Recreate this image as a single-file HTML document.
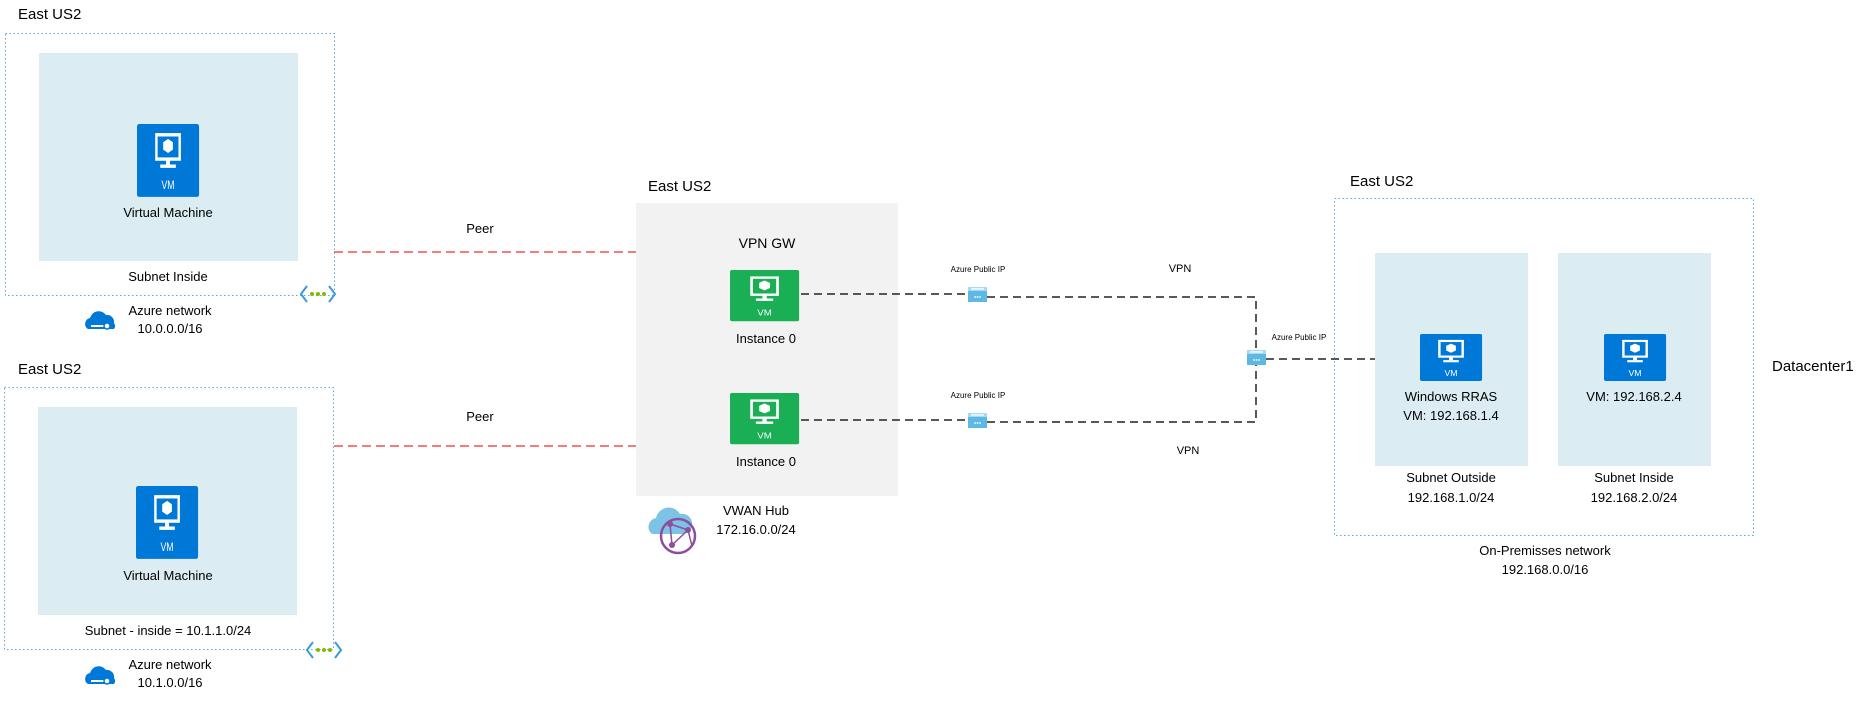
<!DOCTYPE html>
<html><head><meta charset="utf-8"><style>
html,body{margin:0;padding:0;background:#fff;}
svg{display:block;font-family:"Liberation Sans",sans-serif;}
</style></head><body>
<svg width="1873" height="714" viewBox="0 0 1873 714" xmlns="http://www.w3.org/2000/svg">
<defs>
<g id="vm">
  <rect x="0" y="0" width="64" height="54" rx="2"/>
  <rect x="20" y="8" width="24" height="18" fill="none" stroke="#fff" stroke-width="2.5"/>
  <rect x="30" y="26" width="4" height="4" fill="#fff"/>
  <rect x="24" y="30" width="16" height="2.5" fill="#fff"/>
  <path d="M32 11 l5 2.5 v5.5 l-5 2.5 l-5 -2.5 v-5.5z" fill="#fff"/>
  <text x="32" y="48" font-size="9" fill="#fff" text-anchor="middle">VM</text>
</g>
<g id="pip">
  <rect x="0" y="0" width="19" height="15" fill="#5db8e4"/>
  <rect x="0" y="0" width="19" height="4" fill="#a9d9f0"/>
  <rect x="3" y="1.3" width="13" height="1.3" fill="#fff"/>
  <circle cx="7" cy="10" r="0.9" fill="#fff"/><circle cx="9.5" cy="10" r="0.9" fill="#fff"/><circle cx="12" cy="10" r="0.9" fill="#fff"/>
</g>
<g id="net">
  <path d="M6 0 L0 8 L6 16" fill="none" stroke="#3b9bd9" stroke-width="2"/>
  <path d="M28 0 L34 8 L28 16" fill="none" stroke="#3b9bd9" stroke-width="2"/>
  <circle cx="11" cy="8" r="2" fill="#7fba00"/><circle cx="17" cy="8" r="2" fill="#7fba00"/><circle cx="23" cy="8" r="2" fill="#7fba00"/>
</g>
<g id="cloud">
  <path d="M6 20 a6 6 0 0 1 2 -11 a9 9 0 0 1 16 -3 a7 7 0 0 1 8 8 a5 5 0 0 1 0 6 z" fill="#0078d7"/>
  <path d="M9 17 h14" stroke="#fff" stroke-width="2"/>
  <circle cx="25" cy="17" r="3" fill="#fff" stroke="#0078d7" stroke-width="1.5"/>
</g>
</defs>

<g font-size="13" fill="#000">
<!-- left top -->
<text x="18" y="19" font-size="15">East US2</text>
<rect x="5.5" y="33.5" width="329" height="262" fill="none" stroke="#5ea6d6" stroke-dasharray="1.5 2.5"/>
<rect x="39" y="53" width="259" height="208" fill="#dbedf3"/>
<use href="#vm" fill="#0078d7" transform="translate(137 124) scale(0.97 1.35)"/>
<text x="168" y="217" text-anchor="middle">Virtual Machine</text>
<text x="168" y="281" text-anchor="middle">Subnet Inside</text>
<use href="#net" x="301" y="286"/>
<use href="#cloud" x="82" y="309"/>
<text x="170" y="315" text-anchor="middle">Azure network</text>
<text x="170" y="333" text-anchor="middle">10.0.0.0/16</text>

<!-- left bottom -->
<text x="18" y="374" font-size="15">East US2</text>
<rect x="4.5" y="387.5" width="329" height="262" fill="none" stroke="#5ea6d6" stroke-dasharray="1.5 2.5"/>
<rect x="38" y="407" width="259" height="208" fill="#dbedf3"/>
<use href="#vm" fill="#0078d7" transform="translate(136 486) scale(0.97 1.35)"/>
<text x="168" y="580" text-anchor="middle">Virtual Machine</text>
<text x="168" y="635" text-anchor="middle">Subnet - inside = 10.1.1.0/24</text>
<use href="#net" x="307" y="642"/>
<use href="#cloud" x="82" y="664"/>
<text x="170" y="669" text-anchor="middle">Azure network</text>
<text x="170" y="687" text-anchor="middle">10.1.0.0/16</text>

<!-- peers -->
<text x="480" y="233" text-anchor="middle">Peer</text>
<line x1="334" y1="252" x2="636" y2="252" stroke="#f05050" stroke-width="1.5" stroke-dasharray="9 5"/>
<text x="480" y="421" text-anchor="middle">Peer</text>
<line x1="334" y1="446" x2="636" y2="446" stroke="#f05050" stroke-width="1.5" stroke-dasharray="9 5"/>

<!-- hub -->
<text x="648" y="191" font-size="15">East US2</text>
<rect x="636" y="203" width="262" height="293" fill="#f2f2f2"/>
<text x="767" y="248" text-anchor="middle" font-size="14">VPN GW</text>
<use href="#vm" fill="#1aaf54" transform="translate(730 270) scale(1.08 0.95)"/>
<text x="766" y="343" text-anchor="middle">Instance 0</text>
<use href="#vm" fill="#1aaf54" transform="translate(730 393) scale(1.08 0.95)"/>
<text x="766" y="466" text-anchor="middle">Instance 0</text>
<g>
  <path d="M652 534 a9 9 0 0 1 4 -16 a13 13 0 0 1 24 -4 a10 10 0 0 1 4 20 z" fill="#7dc3e6"/>
  <circle cx="678" cy="536" r="17" fill="none" stroke="#8c4f9e" stroke-width="2.5"/>
  <path d="M670 524 L688 530 L672 545 Z M670 524 L672 545 M688 530 L692 546" fill="none" stroke="#8c4f9e" stroke-width="1.5"/>
  <circle cx="670" cy="524" r="3" fill="#8c4f9e"/><circle cx="688" cy="530" r="3" fill="#8c4f9e"/><circle cx="672" cy="545" r="3" fill="#8c4f9e"/>
</g>
<text x="756" y="515" text-anchor="middle">VWAN Hub</text>
<text x="756" y="534" text-anchor="middle">172.16.0.0/24</text>

<!-- VPN lines -->
<g stroke="#222" stroke-width="1.5" fill="none" stroke-dasharray="8 5">
  <line x1="801" y1="294" x2="968" y2="294"/>
  <polyline points="987,297 1256,297 1256,349"/>
  <line x1="801" y1="420" x2="968" y2="420"/>
  <polyline points="987,422 1256,422 1256,365"/>
  <line x1="1266" y1="359" x2="1382" y2="359"/>
</g>
<use href="#pip" x="968" y="287"/>
<use href="#pip" x="968" y="413"/>
<use href="#pip" x="1247" y="350"/>
<g font-size="8">
<text x="978" y="272" text-anchor="middle">Azure Public IP</text>
<text x="978" y="398" text-anchor="middle">Azure Public IP</text>
<text x="1299" y="340" text-anchor="middle">Azure Public IP</text>
</g>
<text x="1180" y="272" text-anchor="middle" font-size="11">VPN</text>
<text x="1188" y="454" text-anchor="middle" font-size="11">VPN</text>

<!-- on-prem -->
<text x="1350" y="186" font-size="15">East US2</text>
<rect x="1334.5" y="198.5" width="419" height="337" fill="none" stroke="#5ea6d6" stroke-dasharray="1.5 2.5"/>
<rect x="1375" y="253" width="153" height="213" fill="#dbedf3"/>
<rect x="1558" y="253" width="153" height="213" fill="#dbedf3"/>
<use href="#vm" fill="#0078d7" transform="translate(1420 334) scale(0.97 0.87)"/>
<use href="#vm" fill="#0078d7" transform="translate(1604 334) scale(0.97 0.87)"/>
<text x="1451" y="401" text-anchor="middle">Windows RRAS</text>
<text x="1451" y="420" text-anchor="middle">VM: 192.168.1.4</text>
<text x="1634" y="401" text-anchor="middle">VM: 192.168.2.4</text>
<text x="1451" y="482" text-anchor="middle">Subnet Outside</text>
<text x="1451" y="502" text-anchor="middle">192.168.1.0/24</text>
<text x="1634" y="482" text-anchor="middle">Subnet Inside</text>
<text x="1634" y="502" text-anchor="middle">192.168.2.0/24</text>
<text x="1772" y="371" font-size="15">Datacenter1</text>
<text x="1545" y="555" text-anchor="middle">On-Premisses network</text>
<text x="1545" y="574" text-anchor="middle">192.168.0.0/16</text>
</g>
</svg>
</body></html>
